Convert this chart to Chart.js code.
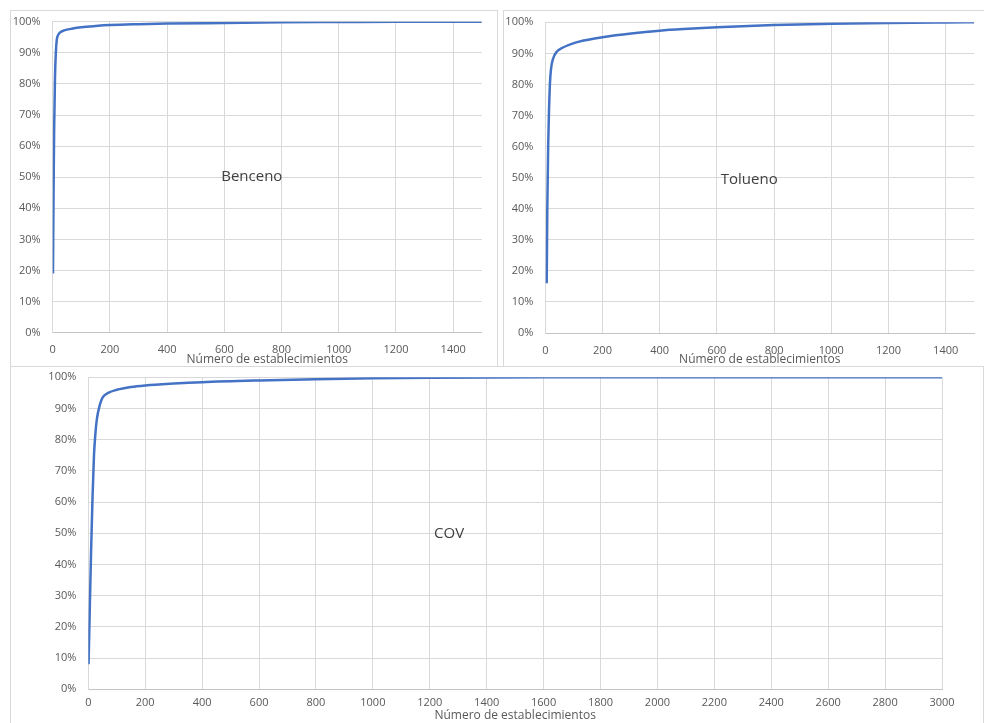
<!DOCTYPE html>
<html>
<head>
<meta charset="utf-8">
<script src="https://cdn.jsdelivr.net/npm/chart.js@4.4.1/dist/chart.umd.min.js"></script>
<style>
  body { margin: 0; background: #fff; width: 984px; height: 723px; overflow: hidden; position: relative; }
  .panel { position: absolute; background: #fff; border: 1px solid #d9d9d9; box-sizing: border-box; overflow: hidden; }
  .panel canvas { position: absolute; left: 0; top: 0; }
</style>
</head>
<body>
<div class="panel" style="left:10px; top:10px; width:488px; height:358px;"><canvas id="benceno" width="486" height="356"></canvas></div>
<div class="panel" style="left:503px; top:10px; width:485px; height:358px;"><canvas id="tolueno" width="483" height="356"></canvas></div>
<div class="panel" style="left:10px; top:366px; width:974px; height:362px;"><canvas id="cov" width="972" height="356"></canvas></div>
<script>
// cumulative share (%) vs number of establishments
const bencenoN = [1, 3, 5, 8, 11, 14, 18, 25, 40, 70, 100, 150, 200, 300, 400, 600, 800, 1000, 1200, 1500];
const bencenoPct = [19, 45, 65, 82, 90, 94, 95.5, 96.5, 97.2, 97.8, 98.2, 98.6, 98.9, 99.2, 99.4, 99.6, 99.8, 99.9, 100, 100];

const toluenoN = [5, 7, 10, 13, 16, 20, 28, 40, 60, 100, 150, 200, 300, 400, 500, 600, 800, 1000, 1200, 1400, 1500];
const toluenoPct = [16, 40, 60, 72, 80, 85, 88.5, 90.5, 91.8, 93.3, 94.4, 95.2, 96.4, 97.3, 97.9, 98.4, 99.1, 99.5, 99.8, 99.95, 100];

const covN = [1, 5, 10, 15, 20, 25, 30, 40, 50, 70, 100, 150, 200, 300, 400, 600, 800, 1000, 1200, 1600, 3000];
const covPct = [8, 25, 45, 62, 75, 82, 86.5, 91, 93.5, 95, 96, 96.9, 97.4, 98.0, 98.45, 99.0, 99.4, 99.7, 99.85, 100, 100];

const smallTicks = [0, 200, 400, 600, 800, 1000, 1200, 1400];
const covTicks = [0, 200, 400, 600, 800, 1000, 1200, 1400, 1600, 1800, 2000, 2200, 2400, 2600, 2800, 3000];

const xTitle = 'Número de establecimientos';

const centerLabel = {
    id: 'centerLabel',
    afterDatasetsDraw(chart, args, opts) {
        const { ctx, scales: { x, y } } = chart;
        ctx.save();
        ctx.font = '15px "Open Sans"';
        ctx.fillStyle = '#404040';
        ctx.textAlign = 'center';
        ctx.textBaseline = 'middle';
        ctx.fillText(opts.text, x.getPixelForValue(opts.x), y.getPixelForValue(opts.y));
        ctx.restore();
    }
};

const tickFont = { family: '"Open Sans"', size: 11 };

function makeChart(id, xs, ys, cfg) {
    new Chart(document.getElementById(id), {
        type: 'line',
        data: {
            datasets: [{
                data: xs.map((x, i) => ({ x, y: ys[i] })),
                borderColor: '#4472C4',
                borderWidth: 2.5,
                pointRadius: 0,
                cubicInterpolationMode: 'monotone',
                fill: false
            }]
        },
        options: {
            responsive: false,
            animation: false,
            devicePixelRatio: 1,
            layout: { padding: cfg.padding },
            plugins: {
                legend: { display: false },
                tooltip: { enabled: false },
                centerLabel: cfg.label
            },
            scales: {
                x: {
                    type: 'linear',
                    min: 0,
                    max: cfg.xMax,
                    afterBuildTicks: s => { s.ticks = cfg.ticks.map(v => ({ value: v })); },
                    afterFit: s => { s.height = cfg.xHeight; },
                    ticks: { maxRotation: 0, autoSkip: false, color: '#595959', font: tickFont, padding: cfg.tickPad, callback: v => String(v) },
                    grid: { color: '#d9d9d9', drawTicks: false },
                    border: { color: '#c4c4c4' },
                    title: { display: true, text: xTitle, color: '#595959', font: { family: '"Open Sans"', size: 12 }, padding: 0 }
                },
                y: {
                    min: 0,
                    max: 100,
                    afterFit: s => {
                        s.width = cfg.yWidth;
                        s.paddingTop = 0;
                        s.paddingBottom = 0;
                    },
                    ticks: { stepSize: 10, color: '#595959', font: tickFont, padding: 12, callback: v => v + '%' },
                    grid: { color: '#d9d9d9', drawTicks: false },
                    border: { color: '#d9d9d9' }
                }
            }
        },
        plugins: [centerLabel]
    });
}

makeChart('benceno', bencenoN, bencenoPct, {
    xMax: 1500,
    ticks: smallTicks,
    padding: { left: 0, top: 10.7, right: 15.2, bottom: 0 },
    yWidth: 41.7,
    xHeight: 34.3,
    tickPad: 11,
    label: { text: 'Benceno', x: 696, y: 50 }
});

makeChart('tolueno', toluenoN, toluenoPct, {
    xMax: 1500,
    ticks: smallTicks,
    padding: { left: 0, top: 11.3, right: 12.7, bottom: 0 },
    yWidth: 41.3,
    xHeight: 34,
    tickPad: 11,
    label: { text: 'Tolueno', x: 713, y: 49.2 }
});

makeChart('cov', covN, covPct, {
    xMax: 3000,
    ticks: covTicks,
    padding: { left: 0, top: 10.3, right: 41, bottom: 0 },
    yWidth: 77.3,
    xHeight: 33.7,
    tickPad: 7,
    label: { text: 'COV', x: 1268, y: 50 }
});
</script>
</body>
</html>
